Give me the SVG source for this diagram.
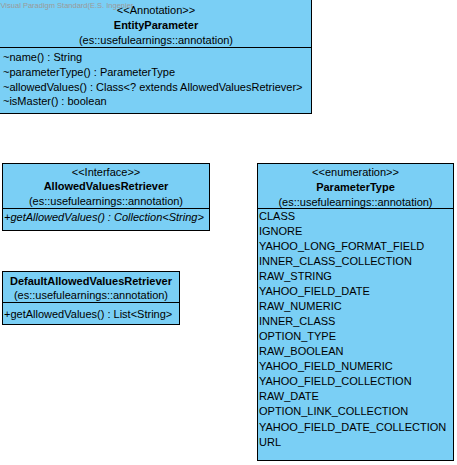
<svg xmlns="http://www.w3.org/2000/svg" width="457" height="465" viewBox="0 0 457 465">
<style>
.box{fill:#7ACFF5;stroke:#000;stroke-width:1}
.sep{stroke:#000;stroke-width:1}
text{font-family:"Liberation Sans",Arial,sans-serif;font-size:11px;fill:#000}
.c{text-anchor:middle}
.b{font-weight:bold}
.i{font-style:italic}
.wm{font-size:7.5px;fill:#9a9a9a}
</style>
<rect width="457" height="465" fill="#fff"/>
<g id="EntityParameter">
<rect class="box" x="-0.5" y="-0.5" width="312" height="114"/>
<line class="sep" x1="0" y1="47.5" x2="311.5" y2="47.5"/>
<text class="c" x="156" y="14">&lt;&lt;Annotation&gt;&gt;</text>
<text class="c b" x="156" y="29">EntityParameter</text>
<text class="c" x="156" y="44">(es::usefulearnings::annotation)</text>
<text x="3" y="61">~name() : String</text>
<text x="3" y="76">~parameterType() : ParameterType</text>
<text x="3" y="90.5">~allowedValues() : Class&lt;? extends AllowedValuesRetriever&gt;</text>
<text x="3" y="105">~isMaster() : boolean</text>
</g>
<g id="AllowedValuesRetriever">
<rect class="box" x="2.5" y="163.5" width="207" height="67"/>
<line class="sep" x1="2.5" y1="208.5" x2="209.5" y2="208.5"/>
<text class="c" x="106" y="175.5">&lt;&lt;Interface&gt;&gt;</text>
<text class="c b" x="106" y="190">AllowedValuesRetriever</text>
<text class="c" x="106" y="205">(es::usefulearnings::annotation)</text>
<text class="i" x="4" y="221">+getAllowedValues() : Collection&lt;String&gt;</text>
</g>
<g id="DefaultAllowedValuesRetriever">
<rect class="box" x="2.5" y="271.5" width="177" height="53"/>
<line class="sep" x1="2.5" y1="302.5" x2="179.5" y2="302.5"/>
<text class="c b" x="91" y="284.5">DefaultAllowedValuesRetriever</text>
<text class="c" x="91" y="299">(es::usefulearnings::annotation)</text>
<text x="4" y="317.5">+getAllowedValues() : List&lt;String&gt;</text>
</g>
<g id="ParameterType">
<rect class="box" x="257.5" y="163.5" width="196" height="297"/>
<line class="sep" x1="257.5" y1="208.5" x2="453.5" y2="208.5"/>
<text class="c" x="355.5" y="176">&lt;&lt;enumeration&gt;&gt;</text>
<text class="c b" x="355.5" y="191">ParameterType</text>
<text class="c" x="355.5" y="205.5">(es::usefulearnings::annotation)</text>
<text x="259" y="220">CLASS</text>
<text x="259" y="235">IGNORE</text>
<text x="259" y="250">YAHOO_LONG_FORMAT_FIELD</text>
<text x="259" y="265">INNER_CLASS_COLLECTION</text>
<text x="259" y="280">RAW_STRING</text>
<text x="259" y="295">YAHOO_FIELD_DATE</text>
<text x="259" y="310">RAW_NUMERIC</text>
<text x="259" y="325">INNER_CLASS</text>
<text x="259" y="340">OPTION_TYPE</text>
<text x="259" y="355">RAW_BOOLEAN</text>
<text x="259" y="370">YAHOO_FIELD_NUMERIC</text>
<text x="259" y="385">YAHOO_FIELD_COLLECTION</text>
<text x="259" y="400">RAW_DATE</text>
<text x="259" y="415">OPTION_LINK_COLLECTION</text>
<text x="259" y="430.5">YAHOO_FIELD_DATE_COLLECTION</text>
<text x="259" y="445.5">URL</text>
</g>
<g id="connectors"></g>
<text class="wm" x="0.5" y="8">Visual Paradigm Standard(E.S. Ingenier</text>
</svg>
